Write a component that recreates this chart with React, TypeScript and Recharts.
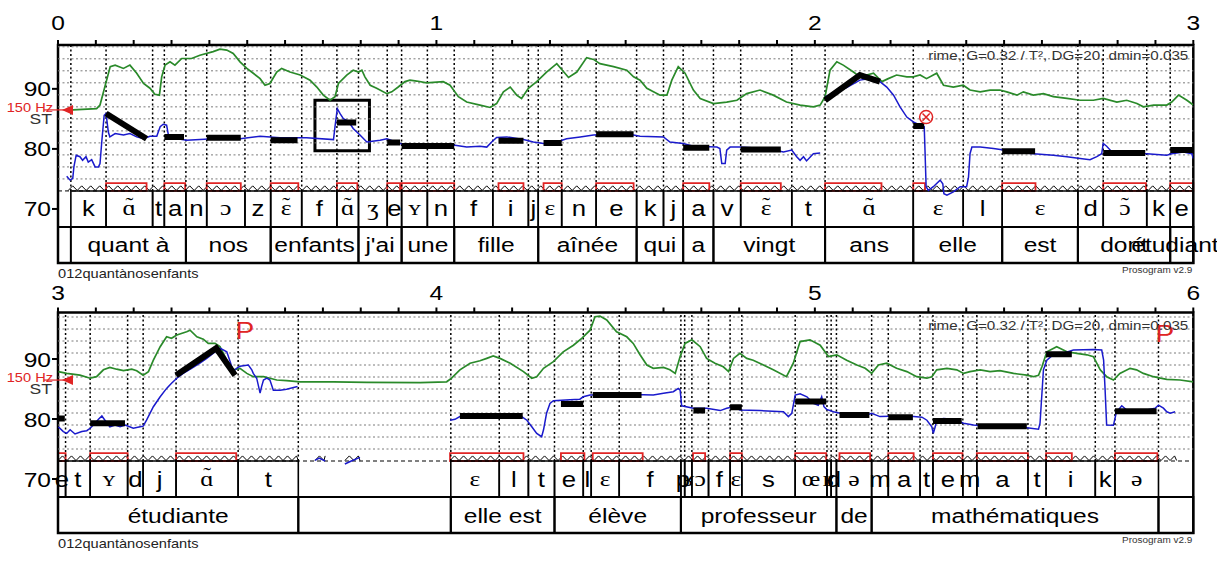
import React from 'react';
import { ComposedChart, Line, XAxis, YAxis, ReferenceArea, ReferenceLine, ReferenceDot } from 'recharts';

type Pt = [number, number];

// ---------------- axis ticks ----------------
const TOP_AXIS_TICKS = [0, 0.1, 0.2, 0.3, 0.4, 0.5, 0.6, 0.7, 0.8, 0.9, 1, 1.1, 1.2, 1.3, 1.4, 1.5, 1.6, 1.7, 1.8, 1.9, 2, 2.1, 2.2, 2.3, 2.4, 2.5, 2.6, 2.7, 2.8, 2.9, 3];
const BOT_AXIS_TICKS = [3, 3.1, 3.2, 3.3, 3.4, 3.5, 3.6, 3.7, 3.8, 3.9, 4, 4.1, 4.2, 4.3, 4.4, 4.5, 4.6, 4.7, 4.8, 4.9, 5, 5.1, 5.2, 5.3, 5.4, 5.5, 5.6, 5.7, 5.8, 5.9, 6];
const TOP_MAJORS = [0, 1, 2, 3];
const TOP_MAJOR_LABELS = ['0', '1', '2', '3'];
const BOT_MAJORS = [3, 4, 5, 6];
const BOT_MAJOR_LABELS = ['3', '4', '5', '6'];
const NEXT_PAGE_LABELS = ['6', '7', '8', '9'];
const ST_TICKS = [70, 80, 90];
const GRID_ST = [75, 77, 79, 81, 83, 85, 87, 89, 91, 93, 95, 97];
const REF_150HZ = 86.74;
const PARAM_TEXT = 'rime, G=0.32 / T\u00B2, DG=20, dmin=0.035';
const FILE_TEXT = '012quant\u00E0nosenfants';
const VERSION_TEXT = 'Prosogram v2.9';

// ---------------- top panel (0-3 s) ----------------
const TOP_PHONE_BOUNDS = [0.034, 0.127, 0.250, 0.281, 0.338, 0.393, 0.494, 0.562, 0.644, 0.737, 0.794, 0.870, 0.908, 0.976, 1.047, 1.149, 1.243, 1.269, 1.331, 1.422, 1.529, 1.600, 1.652, 1.732, 1.804, 1.939, 2.027, 2.260, 2.392, 2.495, 2.695, 2.762, 2.877, 2.939, 3.0];
const TOP_PHONES = ['k', 'ɑ̃', 't', 'a', 'n', 'ɔ', 'z', 'ɛ̃', 'f', 'ɑ̃', 'ʒ', 'e', 'ʏ', 'n', 'f', 'i', 'j', 'ɛ', 'n', 'e', 'k', 'j', 'a', 'v', 'ɛ̃', 't', 'ɑ̃', 'ɛ', 'l', 'ɛ', 'd', 'ɔ̃', 'k', 'e'];
const TOP_WORD_BOUNDS = [0.034, 0.338, 0.562, 0.794, 0.908, 1.047, 1.269, 1.529, 1.652, 1.732, 2.027, 2.260, 2.495, 2.695, 2.939, 3.0];
const TOP_WORDS = ['quant à', 'nos', 'enfants', "j'ai", 'une', 'fille', 'aînée', 'qui', 'a', 'vingt', 'ans', 'elle', 'est', 'dont', 'étudiante'];

const GREEN_TOP: Pt[] = [[0.027,86.45],[0.102,86.7],[0.111,87.3],[0.138,93.7],[0.151,93.95],[0.173,93.4],[0.190,93.95],[0.208,92.6],[0.226,90.9],[0.243,90.1],[0.256,89.1],[0.268,88.95],[0.274,92.0],[0.283,93.95],[0.296,94.5],[0.309,93.95],[0.327,95.05],[0.353,95.05],[0.375,95.6],[0.410,96.2],[0.428,96.6],[0.446,96.45],[0.463,95.9],[0.481,94.5],[0.499,93.4],[0.516,92.6],[0.534,91.7],[0.547,90.6],[0.560,90.9],[0.578,92.8],[0.591,93.4],[0.613,92.8],[0.640,92.3],[0.666,91.45],[0.684,90.3],[0.701,88.95],[0.719,88.1],[0.732,88.7],[0.741,90.9],[0.763,92.3],[0.780,93.1],[0.794,92.8],[0.803,93.1],[0.811,92.0],[0.825,90.6],[0.842,90.1],[0.869,89.2],[0.882,89.5],[0.899,90.3],[0.917,91.2],[0.930,91.45],[0.948,91.3],[0.974,91.0],[1.018,91.2],[1.036,90.6],[1.058,88.7],[1.080,87.8],[1.115,87.3],[1.142,86.9],[1.159,87.55],[1.177,89.5],[1.195,90.3],[1.212,88.95],[1.225,88.4],[1.243,90.1],[1.265,91.2],[1.291,92.8],[1.318,94.2],[1.349,91.9],[1.371,92.8],[1.397,95.2],[1.415,94.9],[1.432,94.2],[1.468,93.7],[1.503,93.1],[1.521,92.0],[1.538,91.45],[1.556,90.1],[1.591,88.95],[1.609,88.95],[1.622,91.45],[1.639,93.7],[1.657,92.6],[1.679,89.8],[1.697,88.4],[1.732,87.55],[1.767,87.8],[1.794,88.1],[1.820,89.2],[1.855,89.8],[1.890,88.95],[1.925,87.8],[1.961,87.3],[1.996,87.0],[2.014,87.3],[2.027,88.7],[2.040,93.1],[2.058,94.5],[2.075,93.95],[2.102,92.8],[2.119,92.0],[2.137,92.3],[2.155,92.6],[2.177,91.2],[2.194,91.7],[2.216,92.3],[2.243,92.0],[2.260,92.0],[2.278,92.3],[2.295,91.7],[2.313,92.3],[2.322,92.6],[2.340,90.6],[2.366,90.3],[2.392,90.6],[2.410,89.8],[2.437,89.5],[2.463,89.8],[2.489,89.8],[2.507,89.5],[2.534,88.95],[2.551,89.5],[2.577,88.95],[2.604,89.2],[2.630,88.7],[2.666,88.4],[2.701,88.1],[2.736,88.1],[2.762,88.4],[2.798,87.8],[2.824,88.1],[2.851,87.55],[2.868,87.0],[2.895,87.3],[2.930,87.3],[2.943,87.8],[2.961,88.95],[2.983,88.1],[3.0,87.3]];

const BLUE_TOP_1: Pt[] = [[0.023,75.45],[0.032,74.8],[0.039,75.1],[0.042,77.0],[0.048,78.95],[0.058,78.7],[0.065,78.1],[0.074,78.7],[0.080,77.8],[0.089,78.2],[0.098,77.0],[0.107,77.0],[0.111,77.55],[0.116,81.45],[0.122,85.6],[0.127,85.9],[0.133,82.8],[0.137,82.0],[0.151,82.55],[0.173,82.3],[0.190,82.55],[0.208,82.0],[0.226,81.7],[0.243,82.1],[0.261,82.1],[0.270,83.7],[0.278,84.1],[0.287,83.95],[0.291,82.55],[0.296,81.9],[0.340,81.45],[0.410,81.7],[0.481,81.7],[0.534,82.1],[0.587,81.85],[0.657,81.85],[0.728,81.55],[0.732,83.7],[0.738,86.7],[0.745,85.9],[0.754,85.05],[0.767,84.65],[0.780,83.4],[0.798,82.3],[0.816,81.15],[0.851,81.45],[0.869,81.7],[0.904,80.9],[0.930,80.6],[1.049,80.6],[1.080,80.3],[1.115,80.45],[1.133,80.3],[1.146,81.15],[1.159,81.9],[1.186,82.0],[1.230,81.55],[1.256,81.15],[1.283,80.9],[1.318,81.15],[1.344,81.7],[1.380,82.0],[1.415,82.3],[1.450,82.45],[1.521,82.3],[1.538,82.1],[1.600,82.0],[1.617,81.15],[1.652,80.9],[1.679,80.45],[1.741,80.3],[1.749,80.05],[1.754,77.55],[1.763,77.55],[1.767,79.8],[1.776,80.3],[1.802,80.3],[1.873,80.05],[1.917,79.5],[1.939,79.8],[1.952,78.7],[1.961,78.1],[1.970,78.7],[1.978,78.0],[1.996,79.2],[2.014,79.3]];
const BLUE_TOP_2: Pt[] = [[2.027,88.7],[2.049,89.2],[2.084,90.2],[2.119,91.45],[2.146,91.7],[2.172,91.2],[2.190,90.3],[2.208,88.95],[2.225,87.0],[2.243,85.3],[2.260,84.5],[2.278,83.95],[2.289,83.7],[2.291,79.8],[2.294,73.7],[2.300,73.1],[2.313,73.7],[2.331,74.8],[2.338,74.2],[2.341,72.55],[2.349,72.3],[2.366,72.85],[2.384,73.7],[2.401,73.7],[2.406,75.3],[2.410,79.2],[2.415,80.3],[2.437,80.3],[2.472,80.05],[2.499,79.8],[2.525,79.5],[2.578,79.2],[2.630,78.95],[2.666,78.7],[2.701,78.4],[2.727,78.2],[2.745,78.7],[2.758,79.2],[2.762,80.9],[2.771,80.45],[2.785,79.5],[2.806,79.2],[2.877,79.2],[2.930,78.95],[2.943,79.2],[2.974,79.5],[2.996,79.2],[3.0,78.4]];

const STYL_TOP: Pt[][] = [
  [[0.127,85.9],[0.234,81.7]],
  [[0.281,82.0],[0.333,82.0]],
  [[0.393,81.85],[0.483,81.85]],
  [[0.562,81.45],[0.633,81.45]],
  [[0.737,84.4],[0.788,84.4]],
  [[0.870,81.05],[0.904,81.05]],
  [[0.908,80.5],[1.047,80.5]],
  [[1.164,81.35],[1.230,81.35]],
  [[1.283,81.0],[1.331,81.0]],
  [[1.422,82.45],[1.521,82.45]],
  [[1.652,80.2],[1.721,80.2]],
  [[1.804,79.9],[1.910,79.9]],
  [[2.027,88.1],[2.119,92.3],[2.172,91.2]],
  [[2.260,83.8],[2.289,83.8]],
  [[2.495,79.6],[2.582,79.6]],
  [[2.762,79.3],[2.873,79.3]],
  [[2.939,79.8],[3.0,79.8]],
];
const NUCLEI_TOP: Pt[] = [[0.127,0.234],[0.281,0.336],[0.393,0.483],[0.562,0.635],[0.737,0.791],[0.870,0.904],[0.908,1.047],[1.164,1.230],[1.283,1.331],[1.422,1.521],[1.652,1.721],[1.804,1.910],[2.027,2.176],[2.260,2.291],[2.495,2.583],[2.762,2.875],[2.939,3.0]];
const ZIGZAG_TOP: Pt[] = [[0.027, 3.0]];
const CIRCLE_MARKS_TOP: Pt[] = [[2.294, 85.3]];
const P_MARKS_TOP: Pt[] = [];
const BOX_TOP = { t1: 0.679, t2: 0.823, s1: 79.7, s2: 88.1 };

// ---------------- bottom panel (3-6 s) ----------------
const BOT_PHONE_BOUNDS = [3.0, 3.020, 3.085, 3.184, 3.225, 3.312, 3.476, 3.635, 4.038, 4.166, 4.243, 4.312, 4.388, 4.409, 4.483, 4.646, 4.656, 4.675, 4.719, 4.776, 4.807, 4.948, 5.032, 5.043, 5.057, 5.150, 5.194, 5.278, 5.312, 5.391, 5.428, 5.563, 5.611, 5.741, 5.793, 5.908, 6.0];
const BOT_PHONES = ['e', 't', 'ʏ', 'd', 'j', 'ɑ̃', 't', '', 'ɛ', 'l', 't', 'e', 'l', 'ɛ', 'f', 'p', 'ʁ', 'ɔ', 'f', 'ɛ', 's', 'œ', 'ʁ', 'd', 'ə', 'm', 'a', 't', 'e', 'm', 'a', 't', 'i', 'k', 'ə', ''];
const BOT_WORD_BOUNDS = [3.0, 3.635, 4.038, 4.312, 4.646, 5.057, 5.150, 5.908, 6.0];
const BOT_WORDS = ['étudiante', '', 'elle est', 'élève', 'professeur', 'de', 'mathématiques', ''];

const GREEN_BOT: Pt[] = [[3.001,87.9],[3.023,87.6],[3.058,87.3],[3.085,86.8],[3.102,87.05],[3.120,88.2],[3.137,88.6],[3.155,88.3],[3.173,88.05],[3.195,88.3],[3.208,88.05],[3.225,87.3],[3.239,87.9],[3.252,89.8],[3.270,92.05],[3.287,93.7],[3.300,93.45],[3.314,94.0],[3.340,94.55],[3.349,94.8],[3.367,93.7],[3.384,93.3],[3.397,92.6],[3.415,92.6],[3.428,92.05],[3.446,89.8],[3.463,88.2],[3.481,88.45],[3.499,87.6],[3.516,87.05],[3.543,87.05],[3.560,86.8],[3.578,86.5],[3.604,86.4],[3.640,86.2],[3.728,86.2],[3.816,86.1],[3.957,86.05],[4.027,86.2],[4.040,86.8],[4.062,88.2],[4.089,89.3],[4.115,89.7],[4.133,90.1],[4.150,90.5],[4.168,90.1],[4.195,89.3],[4.230,87.9],[4.252,86.8],[4.265,87.05],[4.283,88.45],[4.309,89.55],[4.335,91.2],[4.362,92.3],[4.384,93.45],[4.406,94.8],[4.419,97.05],[4.432,97.15],[4.450,96.5],[4.476,94.55],[4.503,93.7],[4.520,92.6],[4.538,90.7],[4.556,89.0],[4.573,88.45],[4.600,88.6],[4.617,88.2],[4.631,87.6],[4.644,90.4],[4.657,92.6],[4.675,93.2],[4.697,92.05],[4.714,90.1],[4.736,89.3],[4.758,88.7],[4.772,87.9],[4.785,90.1],[4.802,90.95],[4.820,90.1],[4.837,89.8],[4.864,89.0],[4.890,88.2],[4.925,87.05],[4.943,89.3],[4.961,92.9],[4.987,93.2],[5.014,92.3],[5.036,90.4],[5.058,90.7],[5.084,89.8],[5.111,89.0],[5.133,88.45],[5.150,87.6],[5.168,89.0],[5.190,89.3],[5.216,88.45],[5.243,87.9],[5.269,87.05],[5.296,86.8],[5.309,87.05],[5.322,88.2],[5.349,88.45],[5.375,88.2],[5.393,87.6],[5.410,87.9],[5.437,88.2],[5.463,87.9],[5.489,88.05],[5.525,87.6],[5.560,87.3],[5.577,87.05],[5.591,87.3],[5.600,88.7],[5.613,91.2],[5.639,92.05],[5.666,91.2],[5.692,90.95],[5.719,90.7],[5.736,90.4],[5.754,88.2],[5.771,87.05],[5.789,86.5],[5.806,87.6],[5.833,88.45],[5.850,88.2],[5.868,87.6],[5.895,87.05],[5.913,86.8],[5.930,86.6],[5.965,86.5],[6.0,86.2]];

const BLUE_BOT_1: Pt[] = [[3.001,78.7],[3.014,77.9],[3.023,77.6],[3.032,78.2],[3.045,77.5],[3.063,77.9],[3.076,78.05],[3.085,78.45],[3.098,79.3],[3.107,79.95],[3.116,80.5],[3.124,79.8],[3.137,78.7],[3.151,79.0],[3.164,78.7],[3.177,79.0],[3.186,78.8],[3.199,78.45],[3.217,78.7],[3.225,78.8],[3.234,79.8],[3.252,82.05],[3.270,83.7],[3.287,85.1],[3.300,85.95],[3.314,86.8],[3.331,87.6],[3.353,88.45],[3.375,89.3],[3.393,90.1],[3.415,91.2],[3.428,91.8],[3.446,91.2],[3.455,89.55],[3.463,87.9],[3.472,88.45],[3.481,88.8],[3.503,89.0],[3.512,88.2],[3.516,87.6],[3.525,86.8],[3.534,84.3],[3.538,85.4],[3.543,86.5],[3.552,86.8],[3.560,86.5],[3.569,84.8],[3.587,84.8],[3.604,84.95],[3.633,85.4]];
const BLUE_BOT_2: Pt[] = [[3.679,73.1],[3.690,73.5],[3.706,73.0]];
const BLUE_BOT_3: Pt[] = [[3.758,72.5],[3.775,73.0],[3.798,73.6]];
const BLUE_BOT_4: Pt[] = [[4.036,79.8],[4.049,79.95],[4.062,80.4],[4.150,80.5],[4.225,80.4],[4.239,79.8],[4.252,78.7],[4.265,77.6],[4.278,77.05],[4.283,78.2],[4.291,80.95],[4.300,82.6],[4.309,83.05],[4.353,83.2],[4.379,83.3],[4.388,83.7],[4.406,84.0],[4.520,84.1],[4.573,84.0],[4.600,84.3],[4.626,84.55],[4.639,85.1],[4.644,84.8],[4.648,82.2],[4.679,81.8],[4.714,81.8],[4.750,81.4],[4.767,81.8],[4.785,82.05],[4.802,81.5],[4.855,81.4],[4.917,81.2],[4.930,80.4],[4.939,80.95],[4.948,84.0],[4.961,84.2],[4.979,83.7],[4.996,82.6],[5.009,82.3],[5.018,83.7],[5.024,82.05],[5.031,81.6],[5.049,81.2],[5.067,80.95],[5.093,80.65],[5.137,80.65],[5.150,80.95],[5.172,80.4],[5.225,80.5],[5.261,80.4],[5.283,80.3],[5.296,79.8],[5.309,78.7],[5.313,77.6],[5.318,78.7],[5.322,79.8],[5.340,80.1],[5.366,79.95],[5.393,79.3],[5.419,79.0],[5.454,78.8],[5.507,78.7],[5.560,78.55],[5.591,78.3],[5.595,79.3],[5.604,88.2],[5.613,89.8],[5.630,90.7],[5.657,90.95],[5.683,91.5],[5.736,91.6],[5.758,91.5],[5.763,89.8],[5.767,84.8],[5.771,79.0],[5.789,78.95],[5.796,80.95],[5.802,81.5],[5.811,82.2],[5.824,81.5],[5.877,81.5],[5.899,81.8],[5.908,82.3],[5.921,81.8],[5.930,81.2],[5.939,80.95],[5.952,81.2]];

const STYL_BOT: Pt[][] = [
  [[3.0,80.1],[3.018,80.1]],
  [[3.085,79.3],[3.177,79.3]],
  [[3.312,87.3],[3.418,91.8],[3.468,87.3]],
  [[4.062,80.5],[4.228,80.5]],
  [[4.329,82.5],[4.388,82.5]],
  [[4.413,84.0],[4.542,84.0]],
  [[4.679,81.4],[4.710,81.4]],
  [[4.776,81.95],[4.807,81.95]],
  [[4.948,82.9],[5.030,82.9]],
  [[5.065,80.65],[5.144,80.65]],
  [[5.194,80.3],[5.259,80.3]],
  [[5.312,79.65],[5.388,79.65]],
  [[5.430,78.8],[5.560,78.8]],
  [[5.611,90.8],[5.679,90.8]],
  [[5.793,81.3],[5.903,81.3]],
];
const NUCLEI_BOT: Pt[] = [[3.0,3.020],[3.085,3.184],[3.312,3.471],[4.036,4.230],[4.329,4.391],[4.413,4.545],[4.678,4.710],[4.776,4.807],[4.948,5.030],[5.065,5.146],[5.194,5.261],[5.312,5.390],[5.428,5.563],[5.611,5.679],[5.793,5.905]];
const ZIGZAG_BOT: Pt[] = [[3.0, 3.635], [3.679, 3.706], [3.758, 3.798], [4.036, 5.956]];
const CIRCLE_MARKS_BOT: Pt[] = [];
const P_MARKS_BOT: Pt[] = [[3.494, 94.8], [5.925, 94.3]];

// ---------------- styling constants ----------------
const SANS = "'Liberation Sans', Arial, Helvetica, sans-serif";
const SERIF = "'Liberation Serif', 'DejaVu Serif', 'Times New Roman', serif";
const SX = 1.17;
const GREEN = '#2a8a2a';
const BLUE = '#1a1acc';
const RED = '#e02424';
const ST_MIN = 61;
const TIER_SPLIT = 67;
const BASE_ST = 73;
const NUC_TOP = 74.3;
const ZZ_LO = 73.08;
const ZZ_HI = 73.85;
const TILDE = '\u0303';

const toRows = (pts: Pt[]) => pts.map(([t, v]) => ({ t, v }));

function SText(props: { x: number; y: number; size: number; anchor?: string; fill?: string; family?: string; children: React.ReactNode }) {
  const { x, y, size, anchor = 'start', fill = '#000', family = SANS, children } = props;
  return (
    <text transform={`translate(${x} ${y}) scale(${SX} 1)`} fontSize={size} fontFamily={family} fill={fill} textAnchor={anchor as any}>
      {children}
    </text>
  );
}

// phone label: nasal vowels drawn as base glyph plus a tilde above it
function PhoneLabel({ cx, cy, lab }: { cx: number; cy: number; lab: string }) {
  const sans = /^[a-z]$/.test(lab);
  if (sans) {
    return <SText x={cx} y={cy + 7.5} size={22} anchor="middle">{lab}</SText>;
  }
  const nasal = lab.includes(TILDE);
  const base = lab.replace(TILDE, '');
  return (
    <g>
      <SText x={cx} y={cy + 6.5} size={22} anchor="middle" family={SERIF}>{base}</SText>
      {nasal ? <SText x={cx} y={cy + 3} size={20} anchor="middle" family={SERIF}>{'\u02DC'}</SText> : null}
    </g>
  );
}

const TimeTick = (props: any) => {
  const { x, y, payload, majors, labels, dy } = props;
  const i = (majors as number[]).findIndex((m) => Math.abs(m - payload.value) < 1e-6);
  if (i < 0) return <g />;
  return <SText x={x} y={y + (dy || 0)} size={21} anchor="middle">{labels[i]}</SText>;
};

const StTick = (props: any) => {
  const { x, y, payload } = props;
  return <SText x={x} y={y + 7.5} size={21} anchor="end">{String(payload.value)}</SText>;
};

const zigShape = (props: any) => {
  const { x, y, width, height } = props;
  const period = 9;
  let d = `M${x},${y + height}`;
  let px = x;
  let up = true;
  while (px < x + width) {
    px = Math.min(px + period / 2, x + width);
    d += ` L${px},${up ? y : y + height}`;
    up = !up;
  }
  return <path d={d} fill="none" stroke="#000" strokeWidth={1} />;
};

interface PanelProps {
  top: number;
  height: number;
  marginTop: number;
  marginBottom: number;
  t0: number;
  t1: number;
  yTop: number;
  tickMargin: number;
  ticks: number[];
  majors: number[];
  majorLabels: string[];
  nextLabels?: string[];
  phoneBounds: number[];
  phones: string[];
  wordBounds: number[];
  words: string[];
  green: Pt[];
  blues: Pt[][];
  styl: Pt[][];
  nuclei: Pt[];
  zig: Pt[];
  circles: Pt[];
  pMarks: Pt[];
  box?: { t1: number; t2: number; s1: number; s2: number };
  paramDy: number;
}

function Panel(p: PanelProps) {
  const phones = p.phones.map((lab, i) => ({ a: p.phoneBounds[i], b: p.phoneBounds[i + 1], lab }));
  const words = p.words.map((lab, i) => ({ a: p.wordBounds[i], b: p.wordBounds[i + 1], lab }));
  const vlines = p.phoneBounds.filter((t) => t > p.t0 + 1e-6 && t < p.t1 - 1e-6);
  const grid = GRID_ST.filter((g) => g < p.yTop);
  return (
    <div style={{ position: 'absolute', left: 0, top: p.top }}>
      <ComposedChart width={1217} height={p.height} margin={{ top: p.marginTop, right: 23.7, bottom: p.marginBottom, left: 0 }}>
        <XAxis
          type="number"
          dataKey="t"
          orientation="top"
          domain={[p.t0, p.t1]}
          ticks={p.ticks}
          interval={0}
          height={30}
          axisLine={false}
          tickLine={{ stroke: '#000', strokeWidth: 2 }}
          tickSize={5}
          tickMargin={p.tickMargin}
          tick={<TimeTick majors={p.majors} labels={p.majorLabels} dy={0} />}
          allowDataOverflow
        />
        {p.nextLabels ? (
          <XAxis
            xAxisId="next"
            type="number"
            orientation="bottom"
            domain={[p.t0, p.t1]}
            ticks={p.majors}
            interval={0}
            height={35}
            axisLine={false}
            tickLine={false}
            tickSize={0}
            tickMargin={0}
            tick={<TimeTick majors={p.majors} labels={p.nextLabels} dy={35} />}
            allowDataOverflow
          />
        ) : null}
        <YAxis
          type="number"
          domain={[ST_MIN, p.yTop]}
          ticks={ST_TICKS}
          interval={0}
          width={58}
          axisLine={false}
          tickLine={{ stroke: '#000', strokeWidth: 2 }}
          tickSize={6}
          tickMargin={1}
          tick={<StTick />}
          allowDataOverflow
        />

        {grid.map((g) => (
          <ReferenceLine key={`g${g}`} y={g} stroke="#7a7a7a" strokeWidth={1} strokeDasharray="2 2.5" />
        ))}
        {vlines.map((t, i) => (
          <ReferenceLine key={`v${i}`} segment={[{ x: t, y: BASE_ST }, { x: t, y: p.yTop }]} stroke="#000" strokeWidth={1.5} strokeDasharray="2 2.5" />
        ))}
        <ReferenceLine y={BASE_ST} stroke="#000" strokeWidth={1} strokeDasharray="4 3" />

        {p.zig.map(([a, b], i) => (
          <ReferenceArea key={`z${i}`} x1={a} x2={b} y1={ZZ_LO} y2={ZZ_HI} shape={zigShape} />
        ))}
        {p.nuclei.map(([a, b], i) => (
          <ReferenceArea key={`n${i}`} x1={a} x2={b} y1={BASE_ST} y2={NUC_TOP} fill="none" fillOpacity={0} stroke={RED} strokeWidth={1.8} />
        ))}

        {phones.filter((ph) => ph.lab !== '').map((ph, i) => (
          <ReferenceArea key={`pb${i}`} x1={ph.a} x2={ph.b} y1={TIER_SPLIT} y2={BASE_ST} fill="none" fillOpacity={0} stroke="#000" strokeWidth={1.6} />
        ))}
        {words.map((w, i) => (
          <ReferenceArea key={`wb${i}`} x1={w.a} x2={w.b} y1={ST_MIN} y2={TIER_SPLIT} fill="none" fillOpacity={0} stroke="#000" strokeWidth={2} />
        ))}
        <ReferenceLine y={TIER_SPLIT} stroke="#000" strokeWidth={2} />

        {p.box ? (
          <ReferenceArea x1={p.box.t1} x2={p.box.t2} y1={p.box.s1} y2={p.box.s2} fill="none" fillOpacity={0} stroke="#000" strokeWidth={3} />
        ) : null}

        <Line data={toRows(p.green)} dataKey="v" type="linear" stroke={GREEN} strokeWidth={1.7} dot={false} activeDot={false} isAnimationActive={false} />
        {p.blues.map((b, i) => (
          <Line key={`b${i}`} data={toRows(b)} dataKey="v" type="linear" stroke={BLUE} strokeWidth={1.5} dot={false} activeDot={false} isAnimationActive={false} />
        ))}
        {p.styl.map((s, i) => (
          <Line key={`s${i}`} data={toRows(s)} dataKey="v" type="linear" stroke="#000" strokeWidth={6} strokeLinecap="butt" dot={false} activeDot={false} isAnimationActive={false} />
        ))}

        {phones.filter((ph) => ph.lab !== '').map((ph, i) => (
          <ReferenceDot
            key={`pl${i}`}
            x={(ph.a + ph.b) / 2}
            y={70}
            shape={(d: any) => <PhoneLabel cx={d.cx} cy={d.cy} lab={ph.lab} />}
          />
        ))}
        {words.filter((w) => w.lab !== '').map((w, i) => (
          <ReferenceDot
            key={`wl${i}`}
            x={(w.a + w.b) / 2}
            y={64}
            shape={(d: any) => (
              <SText x={d.cx} y={d.cy + 7.5} size={21} anchor="middle">
                {w.lab}
              </SText>
            )}
          />
        ))}

        {p.circles.map(([t, v], i) => (
          <ReferenceDot
            key={`c${i}`}
            x={t}
            y={v}
            shape={(d: any) => (
              <g transform={`translate(${d.cx} ${d.cy})`}>
                <circle r={6.5} fill="none" stroke={RED} strokeWidth={1.5} />
                <path d="M-3.6,-3.6 L3.6,3.6 M-3.6,3.6 L3.6,-3.6" stroke={RED} strokeWidth={1.5} />
              </g>
            )}
          />
        ))}
        {p.pMarks.map(([t, v], i) => (
          <ReferenceDot
            key={`p${i}`}
            x={t}
            y={v}
            shape={(d: any) => (
              <SText x={d.cx} y={d.cy + 8.5} size={24} anchor="middle" fill={RED}>
                P
              </SText>
            )}
          />
        ))}

        <ReferenceDot
          x={p.t1}
          y={p.yTop}
          shape={(d: any) => (
            <SText x={d.cx - 5} y={d.cy + p.paramDy} size={13} anchor="end" fill="#333">
              {PARAM_TEXT}
            </SText>
          )}
        />
        <ReferenceDot
          x={p.t0}
          y={REF_150HZ}
          shape={(d: any) => (
            <g>
              <SText x={d.cx - 5} y={d.cy + 3.5} size={12.5} anchor="end" fill={RED}>
                150 Hz
              </SText>
              <line x1={d.cx - 14} y1={d.cy + 1.5} x2={d.cx + 8} y2={d.cy + 1.5} stroke={RED} strokeWidth={1.2} />
              <polygon points={`${d.cx + 4},${d.cy + 1.5} ${d.cx + 15},${d.cy - 3.5} ${d.cx + 15},${d.cy + 6.5}`} fill={RED} />
              <SText x={d.cx - 6} y={d.cy + 15.5} size={15} anchor="end" fill="#333">
                ST
              </SText>
            </g>
          )}
        />
        <ReferenceDot
          x={p.t0}
          y={ST_MIN}
          shape={(d: any) => (
            <SText x={d.cx} y={d.cy + 14.5} size={12.5} anchor="start" fill="#222">
              {FILE_TEXT}
            </SText>
          )}
        />
        <ReferenceDot
          x={p.t1}
          y={ST_MIN}
          shape={(d: any) => (
            <SText x={d.cx - 1} y={d.cy + 10} size={8.5} anchor="end" fill="#333">
              {VERSION_TEXT}
            </SText>
          )}
        />

        <ReferenceArea x1={p.t0} x2={p.t1} y1={ST_MIN} y2={p.yTop} fill="none" fillOpacity={0} stroke="#000" strokeWidth={2.5} />
      </ComposedChart>
    </div>
  );
}

export default function App() {
  return (
    <div style={{ position: 'absolute', left: 0, top: 0, width: 1217, height: 568, background: '#fff', overflow: 'hidden' }}>
      <Panel
        top={0}
        height={290}
        marginTop={15}
        marginBottom={27}
        t0={0}
        t1={3}
        yTop={97.3}
        tickMargin={10}
        ticks={TOP_AXIS_TICKS}
        majors={TOP_MAJORS}
        majorLabels={TOP_MAJOR_LABELS}
        phoneBounds={TOP_PHONE_BOUNDS}
        phones={TOP_PHONES}
        wordBounds={TOP_WORD_BOUNDS}
        words={TOP_WORDS}
        green={GREEN_TOP}
        blues={[BLUE_TOP_1, BLUE_TOP_2]}
        styl={STYL_TOP}
        nuclei={NUCLEI_TOP}
        zig={ZIGZAG_TOP}
        circles={CIRCLE_MARKS_TOP}
        pMarks={P_MARKS_TOP}
        box={BOX_TOP}
        paramDy={15}
      />
      <Panel
        top={270}
        height={298}
        marginTop={12.5}
        marginBottom={0}
        t0={3}
        t1={6}
        yTop={97.75}
        tickMargin={7.5}
        ticks={BOT_AXIS_TICKS}
        majors={BOT_MAJORS}
        majorLabels={BOT_MAJOR_LABELS}
        nextLabels={NEXT_PAGE_LABELS}
        phoneBounds={BOT_PHONE_BOUNDS}
        phones={BOT_PHONES}
        wordBounds={BOT_WORD_BOUNDS}
        words={BOT_WORDS}
        green={GREEN_BOT}
        blues={[BLUE_BOT_1, BLUE_BOT_2, BLUE_BOT_3, BLUE_BOT_4]}
        styl={STYL_BOT}
        nuclei={NUCLEI_BOT}
        zig={ZIGZAG_BOT}
        circles={CIRCLE_MARKS_BOT}
        pMarks={P_MARKS_BOT}
        paramDy={17}
      />
    </div>
  );
}
